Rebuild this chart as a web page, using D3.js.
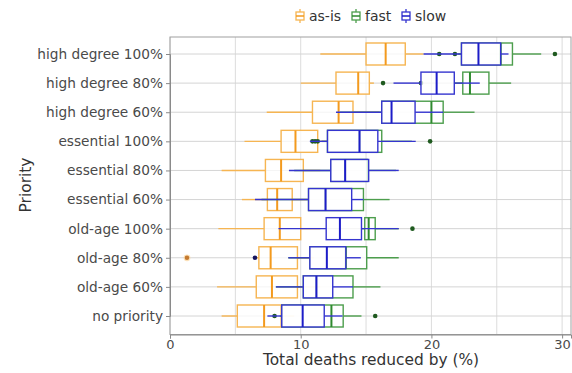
<!DOCTYPE html>
<html>
<head>
<meta charset="utf-8">
<script src="https://cdn.jsdelivr.net/npm/d3@7"></script>
<style>
  html, body { margin: 0; padding: 0; background: #fff; }
  svg { display: block; font-family: "DejaVu Sans", sans-serif; }
</style>
</head>
<body>
<svg id="chart" width="572" height="373"></svg>
<script>
// Priority scenarios, top to bottom
const categories = [
  "high degree 100%", "high degree 80%", "high degree 60%",
  "essential 100%", "essential 80%", "essential 60%",
  "old-age 100%", "old-age 80%", "old-age 60%", "no priority"
];
const seriesNames = ["as-is", "fast", "slow"];
const xTicks = [0, 10, 20, 30];

// as-is: whisker low, Q1, median, Q3, whisker high
const asIsLow  = [11.5, 10.0, 7.4, 5.7, 3.95, 5.5, 3.7, 6.5, 3.6, 3.95];
const asIsQ1   = [15.0, 12.7, 10.9, 8.5, 7.3, 7.45, 7.2, 6.8, 6.6, 5.15];
const asIsMed  = [16.5, 14.4, 12.9, 9.6, 8.5, 8.2, 8.4, 7.7, 7.8, 7.2];
const asIsQ3   = [18.0, 15.25, 14.0, 11.3, 10.2, 9.35, 10.0, 9.75, 9.75, 8.5];
const asIsHigh = [19.4, 15.6, 16.0, 12.0, 11.5, 10.5, 11.5, 11.0, 11.5, 9.5];
const asIsFliers = [[7, 1.3]];

// fast
const fastLow  = [22.0, 21.8, 13.0, 11.6, 9.5, 7.0, 14.65, 9.05, 8.1, 8.4];
const fastQ1   = [22.3, 22.4, 16.2, 12.05, 12.3, 10.6, 14.9, 10.7, 10.2, 8.55];
const fastMed  = [25.3, 22.95, 20.0, 14.5, 13.4, 11.9, 15.2, 13.45, 11.2, 12.35];
const fastQ3   = [26.2, 24.4, 20.9, 16.2, 15.1, 14.8, 15.7, 15.05, 14.0, 13.25];
const fastHigh = [28.4, 26.1, 23.3, 18.5, 17.3, 16.8, 17.5, 17.5, 16.1, 14.65];
const fastFliers = [
  [0, 20.6], [0, 21.8], [0, 29.45], [1, 16.3], [1, 19.2],
  [3, 10.9], [3, 11.1], [3, 11.3], [3, 19.9], [6, 18.55], [9, 8.0], [9, 15.7]
];

// slow
const slowLow  = [19.4, 17.1, 12.7, 10.7, 9.1, 6.5, 8.3, 9.05, 8.1, 7.45];
const slowQ1   = [22.3, 19.2, 16.2, 12.05, 12.3, 10.6, 11.95, 10.7, 10.2, 8.55];
const slowMed  = [23.6, 20.4, 16.95, 14.5, 13.4, 11.9, 13.0, 12.0, 11.2, 10.15];
const slowQ3   = [25.3, 21.75, 18.75, 15.9, 15.2, 13.9, 14.65, 13.45, 12.45, 11.8];
const slowHigh = [25.9, 23.7, 20.9, 18.8, 17.5, 14.8, 17.5, 14.6, 14.0, 13.2];
const slowFliers = [[7, 6.5]];

const styles = {
  "as-is": { line: "#f6b552", med: "#f39a1e", flier: "#c47a30", halo: "#fbd9a8" },
  "fast":  { line: "#4d9e4d", med: "#2f8a2f", flier: "#1f5a1f", halo: null },
  "slow":  { line: "#3535cf", med: "#1c1cc8", flier: "#14145e", halo: null }
};

const series = [
  { name: "as-is", low: asIsLow, q1: asIsQ1, med: asIsMed, q3: asIsQ3, high: asIsHigh, fliers: asIsFliers },
  { name: "fast",  low: fastLow, q1: fastQ1, med: fastMed, q3: fastQ3, high: fastHigh, fliers: fastFliers },
  { name: "slow",  low: slowLow, q1: slowQ1, med: slowMed, q3: slowQ3, high: slowHigh, fliers: slowFliers }
];

const svg = d3.select("#chart");
const plot = { left: 170, right: 571, top: 37, bottom: 334.5 };

const x = d3.scaleLinear().domain([0, 30.68]).range([plot.left, plot.right]);
const y = d3.scalePoint().domain(categories).range([54, 316]);
const boxH = 22;

// vertical grid every 5 units
svg.append("g").selectAll("line")
  .data(d3.range(0, 31, 5))
  .join("line")
  .attr("x1", d => x(d)).attr("x2", d => x(d))
  .attr("y1", plot.top).attr("y2", plot.bottom)
  .attr("stroke", "#dcdcdc").attr("stroke-width", 1);

// horizontal grid at each category
svg.append("g").selectAll("line")
  .data(categories)
  .join("line")
  .attr("x1", plot.left).attr("x2", plot.right)
  .attr("y1", d => y(d)).attr("y2", d => y(d))
  .attr("stroke", "#d4d4d4").attr("stroke-width", 1);

// frame
svg.append("rect")
  .attr("x", plot.left).attr("y", plot.top)
  .attr("width", plot.right - plot.left).attr("height", plot.bottom - plot.top)
  .attr("fill", "none").attr("stroke", "#a0a0a0").attr("stroke-width", 1);

// box plots, one layer per series
series.forEach(s => {
  const st = styles[s.name];
  const g = svg.append("g").attr("class", "series-" + s.name);
  categories.forEach((c, i) => {
    const cy = y(c);
    g.append("line")
      .attr("x1", x(s.low[i])).attr("x2", x(s.q1[i]))
      .attr("y1", cy).attr("y2", cy)
      .attr("stroke", st.line).attr("stroke-width", 1.4);
    g.append("line")
      .attr("x1", x(s.q3[i])).attr("x2", x(s.high[i]))
      .attr("y1", cy).attr("y2", cy)
      .attr("stroke", st.line).attr("stroke-width", 1.4);
    g.append("rect")
      .attr("x", x(s.q1[i])).attr("y", cy - boxH / 2)
      .attr("width", x(s.q3[i]) - x(s.q1[i])).attr("height", boxH)
      .attr("fill", "#fff").attr("fill-opacity", 0.75)
      .attr("stroke", st.line).attr("stroke-width", 1.4);
    g.append("line")
      .attr("x1", x(s.med[i])).attr("x2", x(s.med[i]))
      .attr("y1", cy - boxH / 2).attr("y2", cy + boxH / 2)
      .attr("stroke", st.med).attr("stroke-width", 2);
  });
  s.fliers.forEach(([i, v]) => {
    const cy = y(categories[i]);
    if (st.halo) {
      g.append("circle").attr("cx", x(v)).attr("cy", cy).attr("r", 3.4)
        .attr("fill", st.halo).attr("opacity", 0.8);
    }
    g.append("circle").attr("cx", x(v)).attr("cy", cy).attr("r", 2.3)
      .attr("fill", st.flier);
  });
});

// axes
const xAxis = svg.append("g")
  .attr("transform", `translate(0,${plot.bottom})`)
  .call(d3.axisBottom(x).tickValues(xTicks).tickSize(4).tickPadding(1));
const yAxis = svg.append("g")
  .attr("transform", `translate(${plot.left},0)`)
  .call(d3.axisLeft(y).tickSize(4).tickPadding(3));

[xAxis, yAxis].forEach(a => {
  a.select(".domain").attr("stroke", "#8a8a8a");
  a.selectAll(".tick line").attr("stroke", "#8a8a8a");
  a.selectAll(".tick text")
    .attr("fill", "#4a4a4a")
    .style("font-family", "'DejaVu Sans', sans-serif");
});
xAxis.selectAll(".tick text").style("font-size", "13px");
yAxis.selectAll(".tick text").style("font-size", "13.7px");

// axis titles
svg.append("text")
  .attr("x", 371).attr("y", 364.5)
  .attr("text-anchor", "middle")
  .attr("fill", "#333")
  .style("font-size", "15.4px")
  .text("Total deaths reduced by (%)");

svg.append("text")
  .attr("transform", "translate(31,185) rotate(-90)")
  .attr("text-anchor", "middle")
  .attr("fill", "#333")
  .style("font-size", "15.4px")
  .text("Priority");

// legend
const legend = svg.append("g").attr("transform", "translate(0,16)");
const legendX = [296, 352, 402];
seriesNames.forEach((name, k) => {
  const st = styles[name];
  const lg = legend.append("g").attr("transform", `translate(${legendX[k]},0)`);
  lg.append("line").attr("x1", 4).attr("x2", 4).attr("y1", -7).attr("y2", 7)
    .attr("stroke", st.line).attr("stroke-width", 1.3);
  lg.append("rect").attr("x", 0).attr("y", -4).attr("width", 8).attr("height", 8)
    .attr("fill", "#fff").attr("stroke", st.line).attr("stroke-width", 1.3);
  lg.append("line").attr("x1", 0).attr("x2", 8).attr("y1", 0).attr("y2", 0)
    .attr("stroke", st.med).attr("stroke-width", 1.5);
  lg.append("text").attr("x", 13).attr("y", 5)
    .attr("fill", "#333")
    .style("font-size", "14px")
    .text(name);
});
</script>
</body>
</html>
